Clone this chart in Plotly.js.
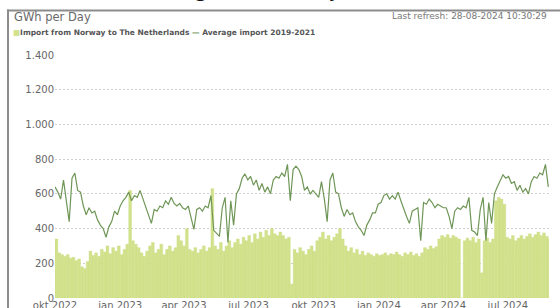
<!DOCTYPE html>
<html>
<head>
<meta charset="utf-8">
<script src="https://cdn.plot.ly/plotly-3.0.1.min.js"></script>
<style>html,body{margin:0;padding:0;background:#fff;}#chart{width:560px;height:308px;}</style>
</head>
<body>
<div id="chart"></div>
<script>
// ---- data (one value every 4 days, starting 1 Oct 2022) ----
var startDate = '2022-10-01';
var stepDays = 4;
var importNorway = [
340,260,250,240,250,230,235,215,225,180,
170,210,270,245,260,240,280,265,300,255,
290,270,300,250,280,310,620,330,310,290,
260,240,270,300,320,260,280,310,250,280,
300,270,290,360,330,300,400,280,270,290,
260,280,300,270,290,630,300,280,320,270,
300,330,290,320,340,310,350,330,360,320,
370,340,380,350,390,360,400,370,360,380,
360,340,350,80,280,260,290,270,250,280,
300,270,330,350,380,340,360,330,350,370,
400,340,300,270,290,260,280,250,270,245,
260,250,240,255,245,250,260,245,255,250,
265,250,240,260,250,265,245,255,240,260,
290,280,300,285,295,340,360,350,365,345,
360,350,340,0,330,345,330,350,320,340,
145,330,345,320,340,560,580,570,540,350,
340,360,330,345,360,340,355,370,350,365,
380,360,375,355,340
];
var averageImport = [
640,610,570,680,560,440,690,720,620,610,
530,480,520,490,500,450,420,400,350,410,
440,500,480,530,560,580,610,560,590,580,
620,570,520,480,430,510,500,530,520,560,
540,580,545,530,545,520,510,530,460,395,
510,520,500,530,520,590,390,370,355,520,
580,320,560,420,600,630,690,715,680,700,
650,680,620,660,610,640,600,680,700,690,
720,700,770,560,740,760,740,700,620,640,
600,
620,600,580,670,570,440,680,720,610,600,
520,470,510,480,490,440,410,390,360,420,
450,490,490,540,550,590,600,570,590,570,
610,560,510,470,430,500,510,520,330,550,
540,570,550,520,540,530,520,520,470,400,
500,520,510,530,520,580,390,380,360,510,
580,330,550,430,600,640,680,710,690,700,
660,670,620,650,610,630,600,670,700,690,
720,710,770,640
];
var xTickVals = ['2022-10-01','2023-01-01','2023-04-01','2023-07-01','2023-10-01','2024-01-01','2024-04-01','2024-07-01'];
var xTickText = ['okt 2022','jan 2023','apr 2023','jul 2023','okt 2023','jan 2024','apr 2024','jul 2024'];
var seriesNames = ['Import from Norway to The Netherlands','Average import 2019-2021'];

// ---- build dates ----
var DAY = 86400000;
var t0 = Date.parse(startDate + 'T00:00:00Z');
function dates(n){ var a=[]; for(var i=0;i<n;i++){ a.push(new Date(t0 + i*stepDays*DAY).toISOString().slice(0,10)); } return a; }
var xBars = dates(importNorway.length);
var xLine = dates(averageImport.length);

// pixel helpers for layout-level decorations (plot area: x 55..549, y 55..298)
var L = 55, R = 11, T = 55, B = 10, W = 560, H = 308;
var PW = W - L - R, PH = H - T - B;
function px(x){ return (x - L) / PW; }
function py(y){ return (H - B - y) / PH; }

var traces = [
  {
    type: 'bar', x: xBars, y: importNorway, name: seriesNames[0],
    offset: 0, width: stepDays * DAY,
    marker: {color: '#d2e18c', line: {width: 0.4, color: '#cddd84'}},
    hoverinfo: 'skip'
  },
  {
    type: 'scatter', mode: 'lines', x: xLine, y: averageImport, name: seriesNames[1],
    line: {color: '#6f9657', width: 1.2},
    hoverinfo: 'skip'
  }
];

var layout = {
  width: W, height: H,
  margin: {l: L, r: R, t: T, b: B},
  paper_bgcolor: '#ffffff', plot_bgcolor: '#ffffff',
  showlegend: false,
  separators: ',.',
  bargap: 0,
  font: {family: 'DejaVu Sans', size: 10, color: '#666666'},
  xaxis: {
    type: 'date', range: ['2022-10-01', '2024-08-28'],
    tickvals: xTickVals, ticktext: xTickText,
    showgrid: false, zeroline: false, showline: false, ticks: '',
    tickfont: {family: 'DejaVu Sans', size: 10, color: '#666666'}
  },
  yaxis: {
    range: [0, 1400], dtick: 200, tick0: 0,
    separatethousands: true, tickformat: ',d',
    showgrid: true, gridcolor: '#cfcfcf', gridwidth: 1, griddash: '2px,2px',
    zeroline: false, showline: false, ticks: '',
    tickfont: {family: 'DejaVu Sans', size: 10, color: '#666666'}
  },
  shapes: [
    {type: 'line', xref: 'paper', yref: 'paper', x0: px(7), x1: px(562), y0: py(10.5), y1: py(10.5), line: {color: '#8c8c8c', width: 2}},
    {type: 'line', xref: 'paper', yref: 'paper', x0: px(8), x1: px(8), y0: py(9.5), y1: py(310), line: {color: '#8c8c8c', width: 2}}
  ],
  annotations: [
    {xref: 'paper', yref: 'paper', x: px(114), y: py(4), xanchor: 'left', yanchor: 'bottom', showarrow: false,
     text: 'Incoming from Norway', font: {family: 'Open Sans', size: 21, color: '#111111'}},
    {xref: 'paper', yref: 'paper', x: px(12), y: py(17), xanchor: 'left', yanchor: 'middle', showarrow: false,
     text: 'GWh per Day', font: {family: 'DejaVu Sans', size: 11.5, color: '#6a6a6a'}},
    {xref: 'paper', yref: 'paper', x: px(549), y: py(16), xanchor: 'right', yanchor: 'middle', showarrow: false,
     text: 'Last refresh: 28-08-2024 10:30:29', font: {family: 'DejaVu Sans', size: 9, color: '#777777'}},
    {xref: 'paper', yref: 'paper', x: px(11), y: py(32), xanchor: 'left', yanchor: 'middle', showarrow: false,
     text: '<span style="color:#d2e18c">■</span>' + seriesNames[0] + ' <span style="color:#6f9657">—</span> ' + seriesNames[1],
     font: {family: 'DejaVu Sans', size: 7.5, color: '#555555', weight: 'bold'}}
  ]
};

Plotly.newPlot('chart', traces, layout, {staticPlot: true, displayModeBar: false});
</script>
</body>
</html>
